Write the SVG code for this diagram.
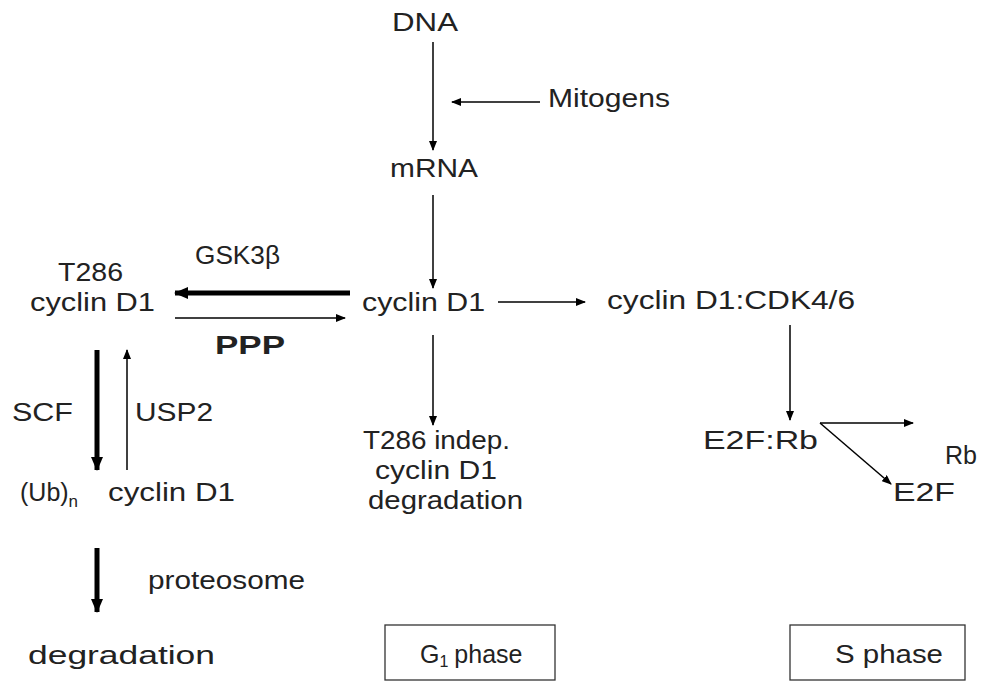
<svg xmlns="http://www.w3.org/2000/svg" width="1000" height="692" viewBox="0 0 1000 692">
<defs>
<marker id="a" markerWidth="10" markerHeight="8" refX="9" refY="4" orient="auto" markerUnits="userSpaceOnUse"><path d="M0,0L10,4L0,8z" fill="#000"/></marker>
<marker id="b" markerWidth="14" markerHeight="12" refX="13" refY="6" orient="auto" markerUnits="userSpaceOnUse"><path d="M0,0L14,6L0,12z" fill="#000"/></marker>
</defs>
<style>
text{font-family:"Liberation Sans",Arial,sans-serif;font-size:25px;fill:#222}
.t{stroke:#000;stroke-width:1.5;fill:none;marker-end:url(#a)}
.k{stroke:#000;stroke-width:5;fill:none;marker-end:url(#b)}
.box{fill:#fff;stroke:#333;stroke-width:1.3}
</style>
<rect width="1000" height="692" fill="#fff"/>
<g id="connectors">
<line class="t" x1="433" y1="42" x2="433" y2="150"/>
<line class="t" x1="540" y1="102" x2="452" y2="102"/>
<line class="t" x1="433" y1="195" x2="433" y2="288"/>
<line class="t" x1="498" y1="302" x2="585" y2="302"/>
<line class="t" x1="790" y1="325" x2="790" y2="420"/>
<line class="t" x1="820" y1="423" x2="913" y2="423"/>
<line class="t" x1="820" y1="423" x2="891" y2="484"/>
<line class="t" x1="433" y1="335" x2="433" y2="425"/>
<line class="k" x1="350" y1="293" x2="175" y2="293"/>
<line class="t" x1="175" y1="318" x2="345" y2="318"/>
<line class="k" x1="97" y1="350" x2="97" y2="470"/>
<line class="t" x1="127" y1="470" x2="127" y2="350"/>
<line class="k" x1="97" y1="548" x2="97" y2="612"/>
</g>
<g id="dna"><text x="392" y="31" textLength="66" lengthAdjust="spacingAndGlyphs">DNA</text></g>
<g id="mitogens"><text x="548" y="107" textLength="122" lengthAdjust="spacingAndGlyphs">Mitogens</text></g>
<g id="mrna"><text x="390" y="177" textLength="88" lengthAdjust="spacingAndGlyphs">mRNA</text></g>
<g id="cyclinD1"><text x="362" y="311" textLength="123" lengthAdjust="spacingAndGlyphs">cyclin D1</text></g>
<g id="cdk"><text x="607" y="309" textLength="248" lengthAdjust="spacingAndGlyphs">cyclin D1:CDK4/6</text></g>
<g id="e2frb"><text x="703" y="449" textLength="115" lengthAdjust="spacingAndGlyphs">E2F:Rb</text></g>
<g id="rb"><text x="945" y="464">Rb</text></g>
<g id="e2f"><text x="893" y="501" textLength="62" lengthAdjust="spacingAndGlyphs">E2F</text></g>
<g id="indep"><text x="363" y="449" textLength="147" lengthAdjust="spacingAndGlyphs">T286 indep.</text><text x="375" y="479" textLength="122" lengthAdjust="spacingAndGlyphs">cyclin D1</text><text x="368" y="509" textLength="155" lengthAdjust="spacingAndGlyphs">degradation</text></g>
<g id="t286"><text x="58" y="281" textLength="65" lengthAdjust="spacingAndGlyphs">T286</text><text x="30" y="311" textLength="125" lengthAdjust="spacingAndGlyphs">cyclin D1</text></g>
<g id="gsk"><text x="195" y="264" textLength="85" lengthAdjust="spacingAndGlyphs">GSK3β</text></g>
<g id="ppp"><text x="215" y="354" font-weight="bold" textLength="70" lengthAdjust="spacingAndGlyphs">PPP</text></g>
<g id="scf"><text x="12" y="421" textLength="61" lengthAdjust="spacingAndGlyphs">SCF</text></g>
<g id="usp2"><text x="135" y="421" textLength="78" lengthAdjust="spacingAndGlyphs">USP2</text></g>
<g id="ub"><text x="20" y="501" font-size="26">(Ub)<tspan font-size="17" dy="6">n</tspan></text><text x="108" y="501" textLength="127" lengthAdjust="spacingAndGlyphs">cyclin D1</text></g>
<g id="proteosome"><text x="148" y="589" textLength="157" lengthAdjust="spacingAndGlyphs">proteosome</text></g>
<g id="degradation"><text x="28" y="664" textLength="187" lengthAdjust="spacingAndGlyphs">degradation</text></g>
<g id="g1"><rect class="box" x="385" y="625" width="170" height="55"/><text x="420" y="663" font-size="27">G<tspan font-size="16" dy="4">1</tspan><tspan dy="-4" dx="6">phase</tspan></text></g>
<g id="s"><rect class="box" x="790" y="625" width="175" height="55"/><text x="835" y="663" textLength="108" lengthAdjust="spacingAndGlyphs">S phase</text></g>
</svg>
